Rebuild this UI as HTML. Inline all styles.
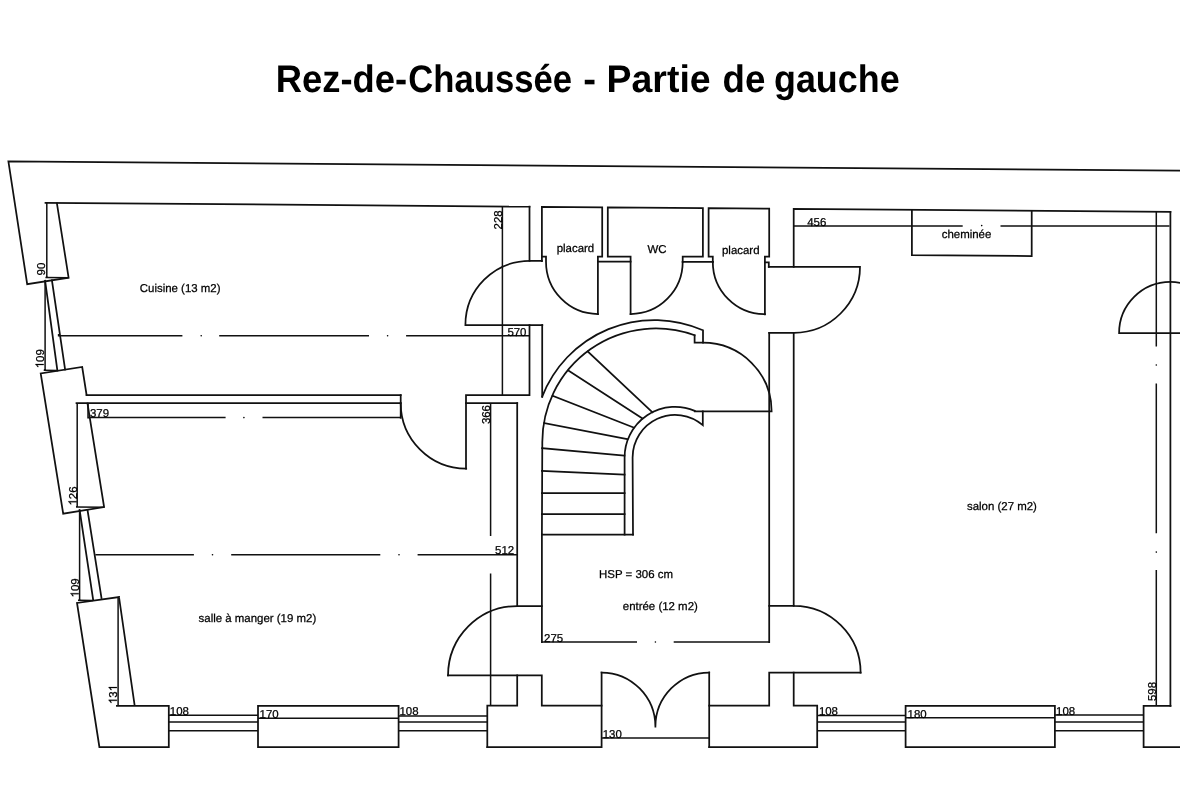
<!DOCTYPE html>
<html lang="fr"><head><meta charset="utf-8"><title>Rez-de-Chaussée - Partie de gauche</title>
<style>html,body{margin:0;padding:0;background:#fff;}body{width:1180px;height:800px;overflow:hidden;font-family:"Liberation Sans",sans-serif;}svg{display:block;filter:grayscale(1);}text{font-family:"Liberation Sans",sans-serif;fill:#000;text-rendering:geometricPrecision;}</style></head><body>
<svg width="1180" height="800" viewBox="0 0 1180 800">
<rect width="1180" height="800" fill="#fff"/>
<g font-weight="bold" font-size="38.4" fill="#111">
<text x="275.85" y="91.7" textLength="131.3" lengthAdjust="spacingAndGlyphs">Rez-de-</text>
<text x="408.3" y="91.7" textLength="163.7" lengthAdjust="spacingAndGlyphs">Chaussée</text>
<text x="583.3" y="91.7" textLength="12.8" lengthAdjust="spacingAndGlyphs">-</text>
<text x="606.6" y="91.7" textLength="104.0" lengthAdjust="spacingAndGlyphs">Partie</text>
<text x="722.6" y="91.7" textLength="42.8" lengthAdjust="spacingAndGlyphs">de</text>
<text x="774.0" y="91.7" textLength="125.6" lengthAdjust="spacingAndGlyphs">gauche</text>
</g>
<g fill="none" stroke="#111" stroke-width="1.75" stroke-linecap="square" stroke-linejoin="miter">
<path d="M1181,170.7 L8.4,161.4 L27.2,284.2 L68.6,277.7 L56.9,203.2"/>
<path d="M45.5,202.8 L529.5,206.7"/>
<path d="M45.1,280.7 L57.4,370.6 M51.9,280.2 L65.1,369.5"/>
<path d="M86.6,395.1 L82.2,367 L40.7,373.4 L63.2,513.7 L104.1,507 L87.5,403.4"/>
<path d="M86.6,395.1 L400.7,395.1"/>
<path d="M76.5,403.1 L400.7,403.1"/>
<path d="M79.6,509.9 L93.1,599.4 M87.5,509.9 L101.5,598.1"/>
<path d="M119,597.1 L77,602.9 L99.4,747 L168.8,747 L168.8,705.8 L116.9,705.8 M119,597.1 L134.7,705.8"/>
<path d="M258,705.8 L398.6,705.8 L398.6,747 L258,747 Z"/>
<path d="M487.3,747 L487.3,705.7 L517.2,705.7 L517.2,675.4"/>
<path d="M448,675.4 L541.8,675.4 L541.8,705.7 L601.6,705.7"/>
<path d="M601.6,672.5 L601.6,747 L487.3,747"/>
<path d="M448,675.4 A69.2,69.4 0 0 1 517.2,606 L541.8,606"/>
<path d="M517.2,403.1 L517.2,606"/>
<path d="M541.9,534.6 L541.9,642.1"/>
<path d="M709.2,672.5 L709.2,747"/>
<path d="M601.6,672.5 A54,54.2 0 0 1 655.4,726.7 M709.2,672.5 A54,54.2 0 0 0 655.4,726.7"/>
<path d="M709.2,705.7 L769.2,705.7 L769.2,672.7 L860.6,672.7"/>
<path d="M793.7,672.7 L793.7,705.7 L817.2,705.7 L817.2,747 L709.2,747"/>
<path d="M793.7,605.9 A66.9,66.8 0 0 1 860.6,672.7 M769.2,605.9 L793.7,605.9"/>
<path d="M769.2,332.8 L769.2,642.1 M793.7,332.8 L793.7,605.9"/>
<path d="M905.6,705.8 L1054.9,705.8 L1054.9,747 L905.6,747 Z"/>
<path d="M1181,747 L1143.6,747 L1143.6,705.8 L1170.5,705.8"/>
<path d="M1170.4,211.8 L1170.4,705.8"/>
<path d="M793.7,266.8 L793.7,208.9 L1170.4,211.9"/>
<path d="M768.8,266.8 L860,266.8 A66.2,66 0 0 1 793.7,332.8 L769.2,332.8"/>
<path d="M911.9,209.8 L911.9,255.2 L1031.7,256 L1031.7,210.8"/>
<path d="M1181,333.1 L1119.1,333.1 A51.3,51.2 0 0 1 1170.4,281.9 A51.3,51.2 0 0 1 1181,283"/>
<path d="M529.5,206.7 L529.5,260.9 L541.9,260.9"/>
<path d="M529.5,260.9 A64.1,64.1 0 0 0 465.4,325 L542.3,325"/>
<path d="M529.5,325 L529.5,395.1 L466,395.1 L466,468.7"/>
<path d="M542.2,325 L542.2,396.9"/>
<path d="M400.7,403.1 A65.5,65.6 0 0 0 466.2,468.7"/>
<path d="M400.7,395.1 L400.7,417.8"/>
<path d="M466,403.1 L517.2,403.1"/>
<path d="M541.9,261 L541.9,206.8 L602.2,207.3 L602.2,256.6 L597.9,256.6 L597.9,314.1"/>
<path d="M541.9,256.6 L546,256.6 L546,261.7 A51.9,52.3 0 0 0 597.9,314"/>
<path d="M597.9,261.7 L630.6,261.7"/>
<path d="M630.6,314 L630.6,256.6 L607.8,256.6 L607.8,207.3 L702.9,208.1 L702.9,256.6 L682.7,256.6 L682.7,261.8"/>
<path d="M682.7,261.8 A52.1,52.2 0 0 1 630.6,314"/>
<path d="M682.7,261.8 L712.8,261.8"/>
<path d="M712.8,261.9 L712.8,256.6 L708.6,256.6 L708.6,208.2 L769.2,208.7 L769.2,256.6 L764.9,256.6 L764.9,314.3"/>
<path d="M712.8,261.9 A52.1,52.3 0 0 0 764.9,314.2"/>
<path d="M764.9,262.3 L768.8,262.3 L768.8,266.8"/>
<path d="M542.2,396.5 A120.4,120.4 0 0 1 703,330.3 L703,342.7 L694.6,342.7 L694.6,335.3"/>
<path d="M694.6,335.3 A113.5,113.5 0 0 0 542.3,442.0 L541.9,534.6 L633,534.6"/>
<path d="M703,342.7 A68.6,68.6 0 0 1 771.6,411.3 L694.8,411.3"/>
<path d="M624.6,534.6 L624.6,457.4 A50.5,50.5 0 0 1 694.8,410.9"/>
<path d="M633,534.6 L632.6,457.4 A42.5,42.5 0 0 1 702.8,425.2 L702.8,411.3"/>
<path d="M587.7,351.5 L652.5,412.3 M568.3,370.4 L642.5,418.6 M552.6,395.7 L633.6,427.5 M544.2,423 L627.3,439.1 M542.1,448.2 L624.4,455.6 M541.9,470.8 L624.6,474.7 M541.9,493 L624.6,493 M541.9,514 L624.6,514"/>
</g>
<g fill="none" stroke="#111" stroke-width="1.5">
<path d="M46.8,203 L46.8,277.4 M45.4,277.4 L68.6,277.8"/>
<path d="M45.1,280.7 L45.1,370.3 M43.7,370.3 L57.6,370.6"/>
<path d="M77.2,403 L77.2,507.1 M76,507.1 L104.1,507.3"/>
<path d="M88,403.7 L88,418.6"/>
<path d="M88,417.6 L225.6,417.6 M262.5,417.6 L400.7,417.6"/>
<path d="M79.6,509.9 L79.6,600.2 M78,600.2 L93,600.5"/>
<path d="M95.4,554.8 L193.9,554.8 M231.2,554.8 L380.3,554.8 M417.6,554.8 L517.2,554.8"/>
<path d="M118.1,597.3 L118.1,705.8"/>
<path d="M58.6,335.8 L182.4,335.8 M219.2,335.8 L369,335.8 M406.1,335.8 L529.5,335.8 M58.6,334 L58.6,336.6"/>
<path d="M168.8,715.2 L258,715.2 M168.8,722.1 L258,722.1 M168.8,730.8 L258,730.8"/>
<path d="M258,718.3 L398.6,718.3"/>
<path d="M398.6,715.9 L487.3,715.9 M398.6,722.1 L487.3,722.1 M398.6,730.8 L487.3,730.8"/>
<path d="M541.9,642 L637,642 M673.7,642 L769.2,642"/>
<path d="M601.6,738.1 L709.2,738.1"/>
<path d="M817.2,715.5 L905.6,715.5 M817.2,722.1 L905.6,722.1 M817.2,730.8 L905.6,730.8"/>
<path d="M905.6,717.7 L1054.9,717.7"/>
<path d="M1054.9,715.1 L1143.6,715.1 M1054.9,722.1 L1143.6,722.1 M1054.9,730.8 L1143.6,730.8"/>
<path d="M1156.3,211.7 L1156.3,346.6 M1156.3,383.4 L1156.3,533.2 M1156.3,570 L1156.3,705.8"/>
<path d="M793.7,226 L962.7,226 M1000.5,226 L1169.5,226"/>
<path d="M502.4,207 L502.4,395.1"/>
<path d="M490.6,403.1 L490.6,535.9 M490.6,573.5 L490.6,705.6"/>
</g>
<g fill="#000">
<circle cx="243.9" cy="417.6" r="0.8"/>
<circle cx="212.5" cy="554.8" r="0.8"/>
<circle cx="399" cy="554.8" r="0.8"/>
<circle cx="201.2" cy="335.8" r="0.8"/>
<circle cx="387.6" cy="335.8" r="0.8"/>
<circle cx="655.4" cy="642" r="0.8"/>
<circle cx="1156.3" cy="365" r="0.8"/>
<circle cx="1156.3" cy="552.1" r="0.8"/>
<circle cx="981.7" cy="225.6" r="0.8"/>
</g>
<g font-size="11.45" stroke="#000" stroke-width="0.25">
<text x="139.8" y="292.4" >Cuisine (13 m2)</text>
<text x="198.6" y="622" >salle à manger (19 m2)</text>
<text x="967" y="510" >salon (27 m2)</text>
<text x="622.8" y="609.5" >entrée (12 m2)</text>
<text x="599.1" y="577.7" >HSP = 306 cm</text>
<text x="941.7" y="238.1" >cheminée</text>
<text x="556.7" y="252.2" >placard</text>
<text x="722.0" y="253.7" >placard</text>
<text x="647.5" y="253" >WC</text>
<text x="90.0" y="417.3" >379</text>
<text x="495.1" y="554.4" >512</text>
<text x="507.4" y="335.5" >570</text>
<text x="544.1" y="641.5" >275</text>
<text x="602.7" y="737.8" >130</text>
<text x="807.2" y="225.5" >456</text>
<text x="169.8" y="714.6" >108</text>
<text x="259.6" y="718" >170</text>
<text x="399.5" y="715.1" >108</text>
<text x="818.9" y="715.2" >108</text>
<text x="907.6" y="717.6" >180</text>
<text x="1056.1" y="714.6" >108</text>
<g transform="translate(45.1,275.4) rotate(-90)" ><text x="0.00" y="0">90</text></g>
<g transform="translate(43.7,368.3) rotate(-90)" ><path d="M4.27,0.00L3.26,0.00L3.26,-6.41Q2.90,-6.07 2.31,-5.72Q1.72,-5.37 1.25,-5.20L1.25,-6.17Q2.09,-6.57 2.72,-7.13Q3.35,-7.70 3.62,-8.23L4.27,-8.23Z" fill="#000"/><text x="6.37" y="0">09</text></g>
<g transform="translate(76.6,505.5) rotate(-90)" ><path d="M4.27,0.00L3.26,0.00L3.26,-6.41Q2.90,-6.07 2.31,-5.72Q1.72,-5.37 1.25,-5.20L1.25,-6.17Q2.09,-6.57 2.72,-7.13Q3.35,-7.70 3.62,-8.23L4.27,-8.23Z" fill="#000"/><text x="6.37" y="0">26</text></g>
<g transform="translate(78.7,597.4) rotate(-90)" ><path d="M4.27,0.00L3.26,0.00L3.26,-6.41Q2.90,-6.07 2.31,-5.72Q1.72,-5.37 1.25,-5.20L1.25,-6.17Q2.09,-6.57 2.72,-7.13Q3.35,-7.70 3.62,-8.23L4.27,-8.23Z" fill="#000"/><text x="6.37" y="0">09</text></g>
<g transform="translate(116.9,704.1) rotate(-90)" ><path d="M4.27,0.00L3.26,0.00L3.26,-6.41Q2.90,-6.07 2.31,-5.72Q1.72,-5.37 1.25,-5.20L1.25,-6.17Q2.09,-6.57 2.72,-7.13Q3.35,-7.70 3.62,-8.23L4.27,-8.23Z" fill="#000"/><text x="6.37" y="0">3</text><path d="M17.00,0.00L16.00,0.00L16.00,-6.41Q15.63,-6.07 15.04,-5.72Q14.45,-5.37 13.98,-5.20L13.98,-6.17Q14.83,-6.57 15.46,-7.13Q16.09,-7.70 16.35,-8.23L17.00,-8.23Z" fill="#000"/></g>
<g transform="translate(501.6,229.4) rotate(-90)" ><text x="0.00" y="0">228</text></g>
<g transform="translate(489.6,424.1) rotate(-90)" ><text x="0.00" y="0">366</text></g>
<g transform="translate(1155.5,701) rotate(-90)" ><text x="0.00" y="0">598</text></g>
</g>
</svg></body></html>
